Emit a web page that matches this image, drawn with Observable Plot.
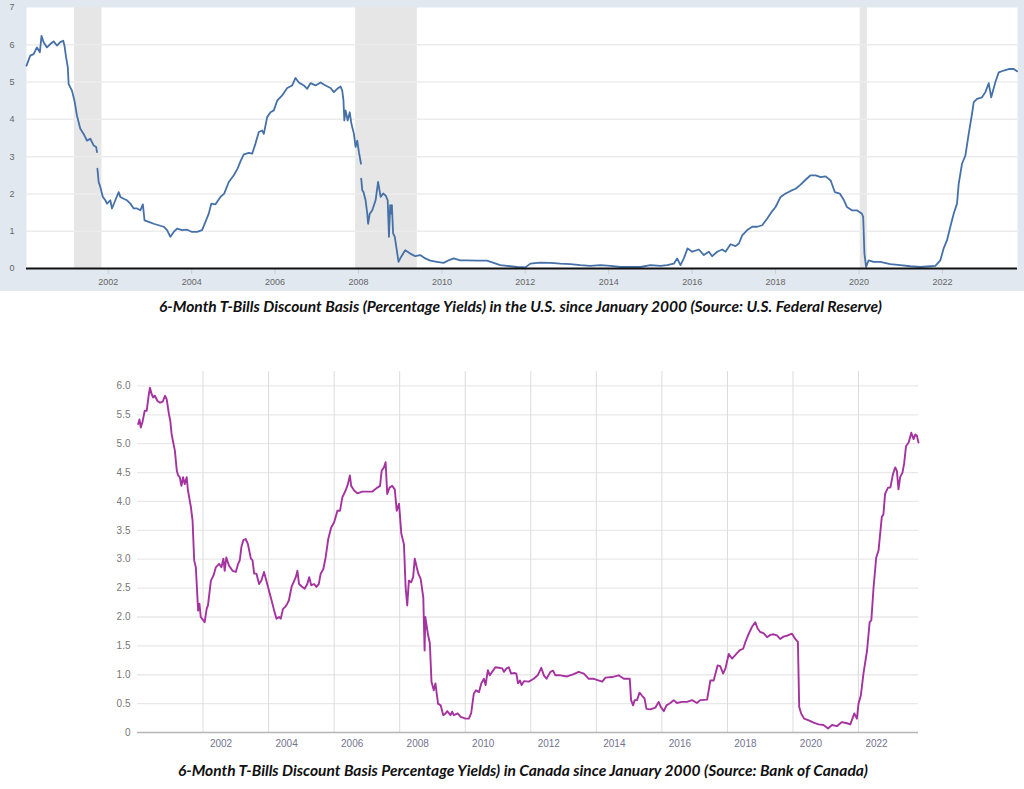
<!DOCTYPE html>
<html>
<head>
<meta charset="utf-8">
<script src="https://cdn.jsdelivr.net/npm/d3@7"></script>
<script src="https://cdn.jsdelivr.net/npm/@observablehq/plot@0.6"></script>
<style>
  html, body { margin: 0; padding: 0; background: #fff; }
  body { width: 1024px; height: 789px; position: relative; overflow: hidden; font-family: "Liberation Sans", Arial, sans-serif; }
  #topPanel { position: absolute; left: 0; top: 0; width: 1024px; height: 291px; background: #e2e8f0; }
  #bottomPanel { position: absolute; left: 0; top: 360px; width: 1024px; height: 400px; }
  .caption { position: absolute; white-space: nowrap; font: italic 700 15px Lato, "Open Sans", sans-serif; line-height: 15px; color: #111; transform-origin: 0 0; }
  #topPanel g[aria-label="x-axis tick"] { stroke: #c9ced6; }
</style>
</head>
<body>
<div id="topPanel"></div>
<div id="cap1" class="caption">6-Month T-Bills Discount Basis (Percentage Yields) in the U.S. since January 2000 (Source: U.S. Federal Reserve)</div>
<div id="bottomPanel"></div>
<div id="cap2" class="caption">6-Month T-Bills Discount Basis Percentage Yields) in Canada since January 2000 (Source: Bank of Canada)</div>
<script>
// ---------- U.S. 6-month T-bill (decimal year, percent); null = gap in the series ----------
const usYear = [2000.04,2000.13,2000.21,2000.29,2000.36,2000.40,2000.45,2000.53,2000.61,2000.69,2000.77,2000.85,2000.92,2000.95,2000.99,
  2001.03,2001.05,2001.09,2001.13,2001.19,2001.25,2001.33,2001.41,2001.49,2001.57,2001.65,2001.71,2001.73,2001.735,2001.74,2001.77,2001.81,2001.87,2001.93,2001.97,
  2002.05,2002.09,2002.17,2002.25,2002.29,2002.37,2002.45,2002.53,2002.61,2002.69,2002.77,2002.83,2002.87,2002.97,
  2003.09,2003.21,2003.33,2003.41,2003.49,2003.57,2003.65,2003.77,2003.89,
  2004.01,2004.13,2004.25,2004.33,2004.41,2004.47,2004.57,2004.69,2004.78,2004.89,
  2005.01,2005.10,2005.18,2005.25,2005.37,2005.45,2005.53,2005.61,2005.69,2005.73,2005.81,2005.89,2005.97,
  2006.05,2006.17,2006.29,2006.41,2006.49,2006.57,2006.69,2006.77,2006.85,2006.97,
  2007.09,2007.21,2007.33,2007.41,2007.49,2007.57,2007.61,2007.64,2007.66,2007.69,2007.74,2007.79,2007.83,2007.89,2007.93,2007.97,
  2008.01,2008.06,2008.062,2008.065,2008.09,2008.12,2008.17,2008.21,2008.23,2008.27,2008.33,2008.41,2008.47,2008.53,2008.59,2008.65,2008.70,2008.73,2008.76,2008.78,2008.80,2008.83,2008.87,2008.93,2008.96,
  2009.02,2009.12,2009.24,2009.36,2009.48,2009.60,2009.72,2009.88,
  2010.04,2010.16,2010.28,2010.44,2010.60,2010.84,2011.08,2011.24,2011.40,2011.56,2011.80,
  2012.00,2012.12,2012.36,2012.60,2012.84,2013.08,2013.32,2013.56,2013.80,
  2014.04,2014.28,2014.52,2014.76,2015.00,2015.24,2015.40,2015.56,2015.64,2015.72,2015.80,2015.89,
  2016.00,2016.16,2016.28,2016.40,2016.48,2016.60,2016.72,2016.80,2016.92,
  2017.04,2017.12,2017.20,2017.32,2017.44,2017.56,2017.68,2017.80,2017.92,
  2018.00,2018.12,2018.24,2018.36,2018.48,2018.60,2018.72,2018.84,2018.96,
  2019.08,2019.20,2019.32,2019.42,2019.54,2019.64,2019.71,2019.83,2019.95,
  2020.07,2020.10,2020.13,2020.17,2020.23,2020.35,2020.51,2020.75,2020.99,
  2021.23,2021.47,2021.71,2021.83,2021.95,
  2022.03,2022.11,2022.19,2022.27,2022.35,2022.39,2022.47,2022.55,2022.63,2022.71,2022.75,2022.83,2022.95,
  2023.03,2023.11,2023.17,2023.27,2023.35,2023.47,2023.59,2023.71,2023.79];
const usRate = [5.44,5.71,5.75,5.93,5.80,6.24,6.07,5.93,6.02,6.09,5.98,6.07,6.11,5.98,5.66,
  5.40,4.95,4.86,4.77,4.50,4.10,3.75,3.61,3.43,3.48,3.30,3.26,3.12,null,2.68,2.32,2.19,1.92,1.83,1.74,
  1.83,1.61,1.83,2.05,1.92,1.87,1.83,1.74,1.61,1.61,1.56,1.72,1.29,1.25,
  1.20,1.16,1.12,1.03,0.85,0.98,1.07,1.03,1.04,
  0.98,0.98,1.03,1.25,1.47,1.74,1.72,1.92,2.01,2.32,
  2.50,2.68,2.90,3.06,3.10,3.08,3.35,3.66,3.70,3.61,4.06,4.19,4.24,
  4.50,4.64,4.84,4.91,5.11,4.99,4.91,4.82,4.97,4.91,
  4.99,4.91,4.84,4.73,4.82,4.88,4.77,4.50,3.97,4.24,3.97,4.19,3.88,3.61,3.26,3.43,
  3.12,2.81,null,2.41,2.10,2.05,1.83,1.47,1.20,1.47,1.56,1.83,2.32,1.92,2.01,1.96,1.83,0.85,1.70,1.47,1.70,0.94,0.85,0.40,0.18,
  0.31,0.49,0.40,0.33,0.36,0.27,0.21,0.18,
  0.15,0.22,0.27,0.22,0.22,0.21,0.21,0.15,0.09,0.07,0.04,
  0.03,0.13,0.16,0.15,0.13,0.12,0.09,0.07,0.09,
  0.07,0.04,0.04,0.04,0.09,0.07,0.09,0.13,0.27,0.09,0.27,0.54,
  0.45,0.51,0.36,0.45,0.33,0.45,0.51,0.45,0.65,
  0.60,0.67,0.89,1.03,1.12,1.12,1.16,1.34,1.54,
  1.65,1.92,2.01,2.08,2.14,2.25,2.38,2.50,2.50,
  2.45,2.47,2.36,2.05,2.01,1.83,1.65,1.56,1.56,
  1.47,1.38,0.40,0.04,0.22,0.18,0.18,0.12,0.09,
  0.06,0.04,0.06,0.07,0.22,
  0.54,0.76,1.12,1.47,1.74,2.27,2.81,3.03,3.61,4.15,4.46,4.55,4.59,
  4.73,4.97,4.59,5.00,5.26,5.31,5.35,5.35,5.29];
const usYearTicks = [2002,2004,2006,2008,2010,2012,2014,2016,2018,2020,2022];
const usRateTicks = [0,1,2,3,4,5,6,7];
const recessionStart = [2001.19, 2007.93, 2020.03];
const recessionEnd   = [2001.85, 2009.41, 2020.20];

// ---------- Canada 6-month T-bill (decimal year, percent) ----------
const caYear = [2000.02,2000.06,2000.10,2000.15,2000.22,2000.28,2000.34,2000.38,2000.43,2000.48,2000.53,2000.61,2000.69,2000.77,2000.84,2000.89,2000.96,
  2001.00,2001.04,2001.09,2001.14,2001.20,2001.24,2001.29,2001.34,2001.39,2001.44,2001.50,2001.54,2001.63,2001.68,2001.73,2001.78,2001.85,2001.89,2001.93,
  2002.01,2002.05,2002.11,2002.15,2002.24,2002.32,2002.39,2002.49,2002.56,2002.62,2002.66,2002.71,2002.79,2002.90,
  2003.00,2003.07,2003.12,2003.17,2003.23,2003.30,2003.37,2003.46,2003.51,2003.56,2003.63,2003.71,2003.78,2003.86,2003.93,
  2004.01,2004.09,2004.17,2004.24,2004.32,2004.37,2004.44,2004.50,2004.57,2004.62,2004.70,2004.76,2004.83,2004.88,2004.93,
  2005.03,2005.10,2005.18,2005.24,2005.30,2005.39,2005.46,2005.53,2005.59,2005.67,2005.74,2005.82,2005.91,
  2006.00,2006.10,2006.18,2006.25,2006.35,2006.42,2006.48,2006.52,2006.61,2006.71,2006.86,
  2007.01,2007.16,2007.32,2007.40,2007.45,2007.52,2007.57,2007.62,2007.69,2007.77,2007.85,2007.91,2007.98,
  2008.05,2008.13,2008.18,2008.23,2008.28,2008.35,2008.41,2008.46,2008.52,2008.57,2008.64,2008.72,2008.76,2008.78,2008.86,2008.92,2008.97,
  2009.04,2009.09,2009.17,2009.25,2009.33,2009.40,2009.45,2009.55,2009.60,2009.65,2009.77,2009.86,
  2010.01,2010.11,2010.18,2010.26,2010.33,2010.42,2010.49,2010.57,2010.62,2010.69,2010.75,2010.82,2010.92,
  2011.02,2011.13,2011.18,2011.26,2011.33,2011.40,2011.50,2011.56,2011.61,2011.67,2011.72,2011.79,2011.94,
  2012.09,2012.21,2012.32,2012.40,2012.48,2012.60,2012.68,2012.75,2012.90,
  2013.11,2013.31,2013.46,2013.62,2013.77,2013.92,
  2014.18,2014.28,2014.48,2014.68,2014.84,
  2015.02,2015.06,2015.12,2015.17,2015.24,2015.32,2015.39,2015.47,2015.53,2015.65,2015.80,2015.90,2015.97,
  2016.06,2016.14,2016.26,2016.36,2016.46,2016.61,2016.77,2016.92,
  2017.07,2017.17,2017.38,2017.48,2017.58,2017.70,2017.78,2017.87,2017.94,
  2018.04,2018.14,2018.24,2018.37,2018.48,2018.55,2018.65,2018.75,2018.85,2018.92,
  2019.00,2019.10,2019.21,2019.31,2019.41,2019.51,2019.61,2019.71,2019.84,2019.97,
  2020.07,2020.15,2020.19,2020.25,2020.34,2020.48,2020.63,2020.78,2020.93,
  2021.07,2021.19,2021.34,2021.49,2021.65,2021.75,2021.87,2021.95,
  2022.00,2022.07,2022.15,2022.26,2022.34,2022.39,2022.46,2022.54,2022.61,2022.71,2022.76,2022.81,2022.90,2022.97,
  2023.05,2023.12,2023.17,2023.22,2023.27,2023.34,2023.39,2023.45,2023.53,2023.61,2023.68,2023.73,2023.78,2023.83];
const caRate = [5.34,5.42,5.28,5.37,5.57,5.57,5.83,5.97,5.86,5.80,5.83,5.74,5.71,5.73,5.83,5.77,5.51,
  5.40,5.17,5.02,4.88,4.53,4.45,4.42,4.27,4.42,4.30,4.42,4.19,3.90,3.67,2.98,2.86,2.11,2.23,2.00,
  1.94,1.91,2.14,2.20,2.63,2.72,2.86,2.92,2.86,3.01,2.80,3.03,2.89,2.80,
  2.78,2.92,2.98,3.21,3.33,3.35,3.26,3.01,2.98,2.75,2.75,2.57,2.63,2.78,2.63,
  2.46,2.29,2.11,1.97,2.00,1.97,2.14,2.17,2.23,2.29,2.52,2.60,2.69,2.80,2.57,
  2.52,2.49,2.57,2.69,2.55,2.57,2.52,2.57,2.75,2.83,3.03,3.35,3.55,
  3.64,3.84,3.84,4.07,4.19,4.30,4.45,4.27,4.19,4.14,4.17,
  4.17,4.17,4.24,4.27,4.53,4.59,4.68,4.13,4.24,4.27,4.21,3.84,3.96,
  3.44,3.26,2.52,2.20,2.63,2.60,2.69,3.01,2.86,2.75,2.66,2.34,1.42,2.00,1.71,1.54,0.88,
  0.73,0.85,0.50,0.47,0.30,0.33,0.37,0.30,0.36,0.30,0.33,0.27,
  0.24,0.24,0.33,0.67,0.73,0.70,0.85,0.93,0.82,1.08,0.99,1.05,1.13,
  1.12,1.11,1.05,1.11,1.13,1.02,1.03,1.02,0.85,0.90,0.82,0.89,0.88,
  0.93,0.99,1.12,0.99,0.93,1.05,1.07,0.99,0.99,
  0.97,1.01,1.05,1.02,0.93,0.93,
  0.88,0.95,0.96,0.99,0.93,
  0.93,0.56,0.47,0.56,0.56,0.69,0.64,0.59,0.41,0.40,0.43,0.53,0.44,
  0.37,0.47,0.51,0.56,0.51,0.53,0.53,0.56,
  0.51,0.56,0.57,0.90,0.90,1.16,1.15,1.02,1.11,
  1.36,1.28,1.34,1.42,1.45,1.57,1.71,1.83,1.91,1.80,
  1.74,1.72,1.65,1.69,1.70,1.68,1.62,1.66,1.68,1.71,
  1.62,1.57,0.44,0.33,0.24,0.21,0.17,0.14,0.13,
  0.07,0.13,0.11,0.18,0.16,0.14,0.33,0.24,
  0.50,0.64,1.02,1.42,1.91,1.94,2.52,3.03,3.15,3.73,3.78,4.13,4.24,4.24,
  4.47,4.59,4.53,4.21,4.42,4.50,4.65,4.96,5.02,5.19,5.08,5.16,5.14,5.02];
const caYearTicks = [2002,2004,2006,2008,2010,2012,2014,2016,2018,2020,2022];
const caRateTicks = [0,0.5,1,1.5,2,2.5,3,3.5,4,4.5,5,5.5,6];

// ---------- build tables ----------
const us = usYear.map((x, i) => ({year: x, rate: usRate[i]}));
const ca = caYear.map((x, i) => ({year: x, rate: caRate[i]}));
const recessions = recessionStart.map((s, i) => ({start: s, end: recessionEnd[i]}));

// ---------- top chart (U.S.) ----------
const topChart = Plot.plot({
  width: 1024, height: 291,
  marginLeft: 26, marginRight: 7, marginTop: 7, marginBottom: 23,
  style: {background: "transparent", fontFamily: "'Liberation Sans', Arial, sans-serif", fontSize: "9px", color: "#666", overflow: "visible"},
  x: {domain: [2000.04, 2023.80], ticks: usYearTicks, tickFormat: d => String(d), tickSize: 6, tickPadding: 4, label: null},
  y: {domain: [0, 7], ticks: usRateTicks, tickFormat: d => String(d), tickSize: 0, tickPadding: 12, label: null},
  marks: [
    Plot.frame({fill: "#ffffff", stroke: "none"}),
    Plot.rect(recessions, {x1: "start", x2: "end", fill: "#e6e6e6"}),
    Plot.ruleY(usRateTicks.filter(d => d > 0 && d < 7), {stroke: "#ececec", strokeWidth: 1.5}),
    Plot.line(us, {x: "year", y: "rate", stroke: "#4571a8", strokeWidth: 1.8, curve: "linear"}),
    Plot.ruleY([0], {stroke: "#111111", strokeWidth: 2})
  ]
});
document.getElementById("topPanel").appendChild(topChart);

// ---------- bottom chart (Canada) ----------
const bottomChart = Plot.plot({
  width: 1024, height: 400,
  marginLeft: 137, marginRight: 106, marginTop: 11, marginBottom: 28,
  style: {background: "transparent", fontFamily: "'Liberation Sans', Arial, sans-serif", fontSize: "10px", color: "#777", overflow: "visible"},
  x: {domain: [2000, 2023.83], axis: null},
  y: {domain: [0, 6.25], ticks: caRateTicks, tickFormat: d => d === 0 ? "0" : d.toFixed(1), tickSize: 0, tickPadding: 7, label: null},
  marks: [
    Plot.ruleY(caRateTicks.filter(d => d > 0), {stroke: "#e9e9e9", strokeWidth: 1.3}),
    Plot.ruleX(caYearTicks, {stroke: "#dcdcdc", strokeWidth: 1}),
    Plot.ruleY([0], {stroke: "#b5b5b5", strokeWidth: 1.3}),
    Plot.line(ca, {x: "year", y: "rate", stroke: "#a5339f", strokeWidth: 1.9}),
    Plot.text(caYearTicks, {x: d => d, frameAnchor: "bottom", dy: 14, dx: 18, text: d => String(d), fill: "#73738f", fontSize: 10})
  ]
});
document.getElementById("bottomPanel").appendChild(bottomChart);

// ---------- captions: fit to measured widths ----------
function placeCaption(id, left, top, width) {
  const el = document.getElementById(id);
  el.style.left = left + "px";
  el.style.top = top + "px";
  const w = el.getBoundingClientRect().width;
  el.style.transform = "scaleX(" + (width / w) + ")";
}
placeCaption("cap1", 159, 298.5, 723);
placeCaption("cap2", 178, 762.5, 690);
</script>
</body>
</html>
